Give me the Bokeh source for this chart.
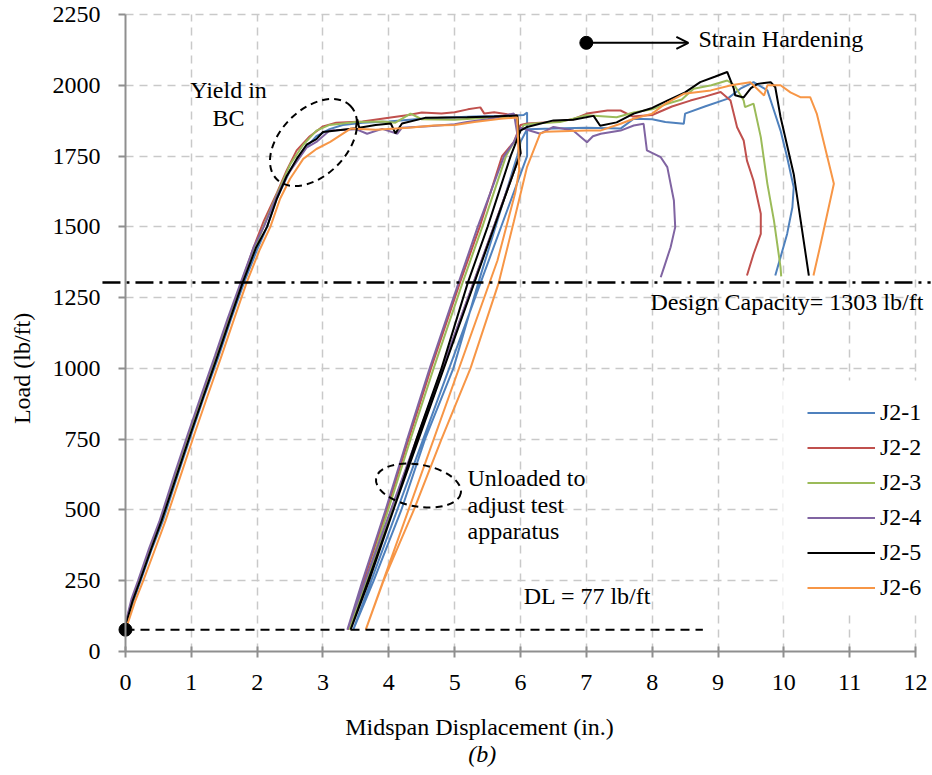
import math

from bokeh.plotting import figure
from bokeh.models import (Range1d, FixedTicker, Label, Arrow, OpenHead, Legend,
                          LegendItem)
from bokeh.embed import file_html
from bokeh.resources import INLINE

# ---------------------------------------------------------------------------
# Load vs. midspan displacement for specimens J2-1 ... J2-6, (x [in.], load [lb/ft])
# ---------------------------------------------------------------------------
j2_1 = [(0, 77), (0.03, 112), (0.12, 178), (0.23, 250), (0.4, 362), (0.57, 463), (0.8, 628),
        (1.0, 768), (1.2, 905), (1.41, 1040), (1.6, 1172), (1.8, 1303), (2.0, 1420), (2.15, 1500),
        (2.3, 1600), (2.5, 1700), (2.7, 1770), (2.9, 1820), (3.1, 1845), (3.3, 1860), (3.6, 1868),
        (4.0, 1872), (4.4, 1880), (4.8, 1885), (5.3, 1890), (5.8, 1892), (6.05, 1895), (6.1, 1904),
        (6.1, 1750), (3.46, 77), (3.77, 250), (4.19, 500), (4.55, 750), (4.98, 1000), (5.36, 1303),
        (5.62, 1500), (5.95, 1750), (6.0, 1800), (6.1, 1845), (6.5, 1847), (7.0, 1850), (7.52, 1847),
        (7.72, 1882), (8.0, 1880), (8.2, 1870), (8.48, 1864), (8.5, 1900), (8.8, 1925), (9.14, 1952),
        (9.34, 1988), (9.54, 2011), (9.75, 1982), (9.85, 1911), (9.95, 1840), (10.05, 1746),
        (10.15, 1640), (10.13, 1569), (10.05, 1475), (9.95, 1393), (9.87, 1328)]

j2_2 = [(0, 77), (0.02, 115), (0.1, 180), (0.2, 250), (0.38, 365), (0.53, 463), (0.77, 630),
        (0.97, 770), (1.17, 905), (1.38, 1045), (1.57, 1175), (1.76, 1303), (1.95, 1430), (2.1, 1520),
        (2.3, 1620), (2.45, 1700), (2.6, 1770), (2.8, 1820), (3.0, 1855), (3.2, 1868), (3.6, 1872),
        (4.0, 1885), (4.3, 1895), (4.5, 1904), (4.8, 1900), (5.0, 1905), (5.2, 1915), (5.39, 1922),
        (5.45, 1900), (5.6, 1905), (5.8, 1898), (5.95, 1893), (6.0, 1760), (3.38, 77), (3.62, 250),
        (3.97, 500), (4.3, 750), (4.64, 1000), (5.08, 1303), (5.38, 1500), (5.72, 1750), (5.9, 1800),
        (6.0, 1860), (6.1, 1865), (6.5, 1870), (6.8, 1880), (7.01, 1900), (7.32, 1911), (7.52, 1911),
        (7.7, 1890), (8.0, 1895), (8.3, 1925), (8.58, 1946), (8.8, 1960), (9.04, 1976), (9.19, 1946),
        (9.29, 1852), (9.39, 1805), (9.44, 1734), (9.54, 1663), (9.65, 1546), (9.65, 1475),
        (9.54, 1404), (9.44, 1328)]

j2_3 = [(0, 77), (0.03, 112), (0.11, 180), (0.21, 250), (0.39, 365), (0.55, 463), (0.78, 630),
        (0.98, 770), (1.18, 905), (1.39, 1045), (1.58, 1175), (1.77, 1303), (1.97, 1425), (2.12, 1515),
        (2.3, 1615), (2.5, 1720), (2.7, 1790), (2.9, 1840), (3.1, 1860), (3.5, 1870), (3.9, 1872),
        (4.1, 1868), (4.33, 1900), (4.5, 1880), (5.0, 1878), (5.5, 1885), (5.95, 1890), (6.0, 1760),
        (3.40, 77), (3.65, 250), (3.99, 500), (4.33, 750), (4.68, 1000), (5.12, 1303), (5.42, 1500),
        (5.78, 1750), (5.95, 1820), (6.05, 1860), (6.2, 1865), (6.6, 1870), (7.0, 1894), (7.46, 1887),
        (7.72, 1904), (8.0, 1915), (8.23, 1935), (8.45, 1950), (8.63, 1988), (8.9, 2000), (9.14, 2017),
        (9.25, 2000), (9.39, 1946), (9.41, 1923), (9.54, 1935), (9.65, 1817), (9.75, 1652),
        (9.85, 1522), (9.95, 1357), (9.96, 1325)]

j2_4 = [(0, 77), (0.02, 118), (0.09, 185), (0.19, 250), (0.36, 365), (0.52, 463), (0.75, 630),
        (0.95, 770), (1.15, 905), (1.36, 1045), (1.55, 1175), (1.75, 1303), (1.95, 1430), (2.1, 1500),
        (2.3, 1610), (2.45, 1680), (2.6, 1730), (2.75, 1780), (2.9, 1800), (3.1, 1840), (3.5, 1845),
        (3.67, 1829), (3.9, 1846), (4.13, 1829), (4.2, 1850), (4.6, 1855), (5.0, 1862), (5.19, 1870),
        (5.5, 1880), (5.9, 1900), (6.0, 1760), (3.37, 77), (3.6, 250), (3.95, 500), (4.28, 750),
        (4.62, 1000), (5.06, 1303), (5.35, 1500), (5.75, 1750), (5.9, 1800), (6.0, 1850), (6.3, 1829),
        (6.5, 1853), (6.8, 1840), (7.01, 1799), (7.1, 1820), (7.22, 1829), (7.52, 1840), (7.72, 1858),
        (7.87, 1864), (7.92, 1770), (8.13, 1746), (8.23, 1711), (8.33, 1593), (8.35, 1499),
        (8.28, 1428), (8.18, 1357), (8.13, 1322)]

j2_5 = [(0, 77), (0.03, 115), (0.11, 180), (0.22, 250), (0.39, 362), (0.55, 463), (0.79, 630),
        (0.99, 770), (1.19, 905), (1.4, 1045), (1.59, 1175), (1.78, 1303), (1.98, 1425), (2.15, 1500),
        (2.3, 1600), (2.45, 1680), (2.6, 1740), (2.75, 1790), (2.9, 1810), (3.0, 1835), (3.2, 1840),
        (3.5, 1848), (3.52, 1880), (3.55, 1850), (3.8, 1860), (4.03, 1865), (4.1, 1830), (4.2, 1865),
        (4.55, 1885), (5.19, 1887), (5.6, 1890), (5.95, 1893), (6.0, 1760), (3.42, 77), (3.7, 250),
        (4.07, 500), (4.42, 750), (4.8, 1000), (5.2, 1303), (5.5, 1500), (5.85, 1750), (6.0, 1840),
        (6.1, 1853), (6.5, 1876), (6.8, 1878), (7.11, 1892), (7.21, 1857), (7.46, 1869), (7.72, 1900),
        (8.0, 1920), (8.23, 1946), (8.5, 1975), (8.73, 2011), (8.95, 2030), (9.14, 2047), (9.24, 1988),
        (9.26, 1965), (9.39, 1957), (9.5, 1990), (9.6, 2005), (9.8, 2011), (9.87, 1993), (9.95, 1888),
        (10.15, 1687), (10.38, 1328)]

j2_6 = [(0, 77), (0.05, 110), (0.15, 180), (0.27, 250), (0.45, 362), (0.61, 463), (0.85, 630),
        (1.05, 770), (1.25, 905), (1.46, 1045), (1.65, 1175), (1.84, 1303), (2.04, 1420), (2.2, 1500),
        (2.35, 1600), (2.5, 1670), (2.7, 1740), (2.9, 1775), (3.11, 1800), (3.42, 1847), (3.8, 1843),
        (4.3, 1850), (4.68, 1858), (5.0, 1860), (5.3, 1870), (5.7, 1882), (5.95, 1886), (5.98, 1700),
        (5.92, 1620), (5.65, 1381), (3.65, 77), (3.92, 250), (4.38, 500), (4.8, 750), (5.24, 1000),
        (5.67, 1303), (5.9, 1520), (6.1, 1712), (6.3, 1830), (6.38, 1836), (7.0, 1840), (7.21, 1840),
        (7.52, 1864), (7.72, 1882), (8.0, 1900), (8.2, 1935), (8.48, 1970), (8.89, 1982), (9.2, 2000),
        (9.49, 2011), (9.7, 1964), (9.75, 2000), (9.95, 2000), (10.1, 1975), (10.25, 1958),
        (10.4, 1958), (10.5, 1900), (10.6, 1805), (10.76, 1652), (10.66, 1546), (10.56, 1440),
        (10.45, 1328)]

series_names = ["J2-1", "J2-2", "J2-3", "J2-4", "J2-5", "J2-6"]
series_data = [j2_1, j2_2, j2_3, j2_4, j2_5, j2_6]
series_colors = ["#4F81BD", "#C0504D", "#9BBB59", "#8064A2", "#000000", "#F79646"]

x_ticks = list(range(0, 13))
y_ticks = list(range(0, 2251, 250))

dead_load = 77          # lb/ft
design_capacity = 1303  # lb/ft
hardening_start = 7.0   # in.

FONT = "Liberation Serif"
FS = "24px"
AXIS_GREY = "#8f8f8f"
GRID_GREY = "#c9c9c9"

# The frame fills the whole canvas; both axes are pinned at the origin so that
# the titles, captions and reference lines can sit around the axis box.
p = figure(width=932, height=775, output_backend="svg", toolbar_location=None,
           x_range=Range1d(-1.8987, 12.2582), y_range=Range1d(-438.0, 2299.5),
           min_border=0, min_border_left=0, min_border_right=0,
           min_border_top=0, min_border_bottom=0)
p.outline_line_color = None
p.background_fill_color = "white"
p.border_fill_color = "white"

# axes
xa = p.xaxis[0]
xa.ticker = FixedTicker(ticks=x_ticks)
xa.bounds = (0, 12)
xa.fixed_location = 0
ya = p.yaxis[0]
ya.ticker = FixedTicker(ticks=y_ticks)
ya.bounds = (0, 2250)
ya.fixed_location = 0
for ax in (xa, ya):
    ax.axis_line_color = AXIS_GREY
    ax.axis_line_width = 2
    ax.major_tick_line_color = AXIS_GREY
    ax.major_tick_line_width = 2
    ax.minor_tick_line_color = None
    ax.major_label_text_font = FONT
    ax.major_label_text_font_size = FS
    ax.major_label_text_color = "black"
xa.major_tick_in = 5
xa.major_tick_out = 6
xa.major_label_standoff = 17
ya.major_tick_in = 0
ya.major_tick_out = 7
ya.major_label_standoff = 18

# dashed grid restricted to the axis box
p.xgrid.ticker = FixedTicker(ticks=x_ticks[1:])
p.xgrid.bounds = (0, 12)
p.xgrid.cross_bounds = (0, 2250)
p.ygrid.ticker = FixedTicker(ticks=y_ticks[1:])
p.ygrid.bounds = (0, 2250)
p.ygrid.cross_bounds = (0, 12)
for g in (p.xgrid, p.ygrid):
    g.grid_line_color = GRID_GREY
    g.grid_line_width = 1.5
    g.grid_line_dash = "8 6"

# blank panel behind the legend
p.quad(left=[9.99], right=[12.26], bottom=[134], top=[957],
       fill_color="white", line_color=None)

# test curves
items = []
for name, pts, color in zip(series_names, series_data, series_colors):
    xs = [pt[0] for pt in pts]
    ys = [pt[1] for pt in pts]
    r = p.line(xs, ys, line_color=color, line_width=2)
    items.append(LegendItem(label=name, renderers=[r]))

# dead load line and marker
p.line([0, 8.77], [dead_load, dead_load], line_color="black", line_width=2,
       line_dash="9 6")
p.scatter([0], [dead_load], size=13, color="black")

# design capacity line
p.line([-0.35, 12.23], [design_capacity, design_capacity], line_color="black",
       line_width=2.5, line_dash="18 6 3 6")

# strain hardening marker and arrow
p.scatter([hardening_start], [2150], size=13, color="black")
p.add_layout(Arrow(end=OpenHead(size=12, line_width=2, line_color="black"),
                   x_start=hardening_start, y_start=2150, x_end=8.55, y_end=2150,
                   line_width=2, line_color="black"))

# callout ellipses
p.ellipse(x=[2.856], y=[1798], width=[104], height=[66], angle=[math.radians(45)],
          width_units="screen", height_units="screen", fill_color=None,
          line_color="black", line_width=2, line_dash="7 5")
p.ellipse(x=[4.45], y=[586], width=[86], height=[42], angle=[math.radians(-10)],
          width_units="screen", height_units="screen", fill_color=None,
          line_color="black", line_width=2, line_dash="7 5")


def add_text(x, y, text, align="left", baseline="alphabetic", angle=0.0, style="normal"):
    p.add_layout(Label(x=x, y=y, text=text, text_font=FONT, text_font_size=FS,
                       text_color="black", text_align=align, text_baseline=baseline,
                       angle=angle, text_font_style=style))


add_text(1.565, 1983, "Yield in", align="center")
add_text(1.565, 1884, "BC", align="center")
add_text(8.704, 2163, "Strain Hardening")
add_text(7.975, 1234, "Design Capacity= 1303 lb/ft")
add_text(5.195, 613, "Unloaded to")
add_text(5.195, 517, "adjust test")
add_text(5.195, 426, "apparatus")
add_text(6.05, 196, "DL = 77 lb/ft")

# axis titles and caption
add_text(5.377, -267, "Midspan Displacement (in.)", align="center")
add_text(5.42, -362, "(b)", align="center", style="italic")
add_text(-1.565, 1000, "Load (lb/ft)", align="center", baseline="middle", angle=math.pi / 2)

legend = Legend(items=items, location=(799, 162), orientation="vertical",
                glyph_width=68, glyph_height=35, label_height=35, label_standoff=5,
                spacing=0, padding=8, margin=0, background_fill_alpha=0,
                border_line_alpha=0, label_text_font=FONT, label_text_font_size=FS,
                label_text_color="black")
p.add_layout(legend)

open("out.html", "w").write(file_html(p, INLINE))
